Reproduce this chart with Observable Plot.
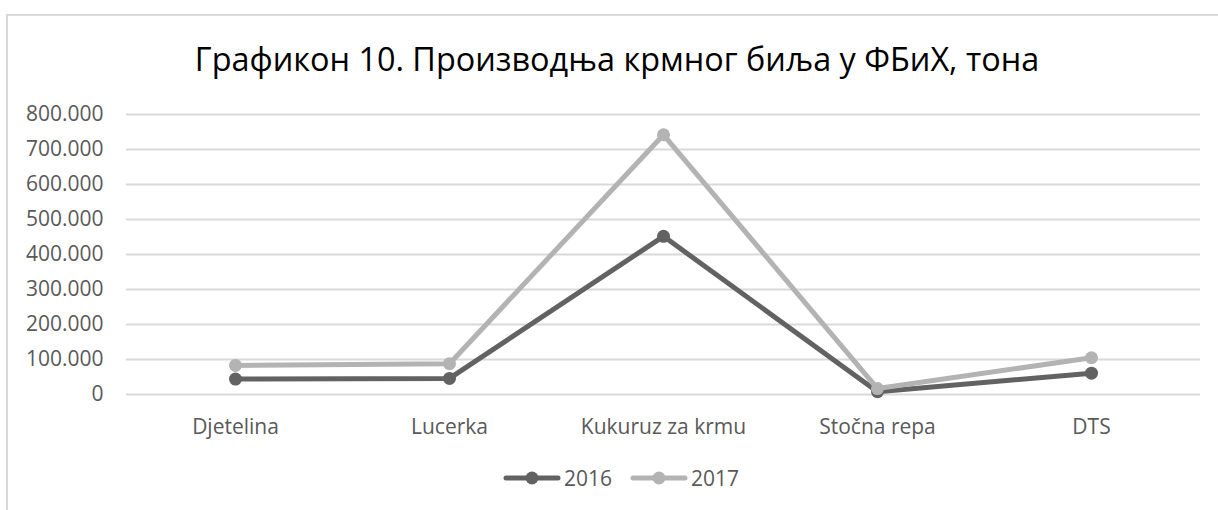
<!DOCTYPE html>
<html>
<head>
<meta charset="utf-8">
<script src="https://cdn.jsdelivr.net/npm/d3@7"></script>
<script src="https://cdn.jsdelivr.net/npm/@observablehq/plot@0.6"></script>
<style>
  html, body { margin: 0; padding: 0; background: #fff; }
  body { width: 1218px; height: 510px; position: relative; overflow: hidden; font-family: "Open Sans", "Noto Sans", sans-serif; }
  #frame { position: absolute; left: 6px; top: 14px; width: 1240px; height: 520px; border-top: 2px solid #d9d9d9; border-left: 2px solid #d9d9d9; box-sizing: border-box; }
  #title { position: absolute; left: 0; width: 1234px; top: 38px; text-align: center; font-size: 32.4px; color: #000; line-height: 40px; white-space: nowrap; }
  #chart { position: absolute; left: 0; top: 0; }
  #legend { position: absolute; top: 464px; left: 0; width: 1242px; display: flex; justify-content: center; gap: 18px; font-size: 21px; color: #595959; }
  .item { display: flex; align-items: center; gap: 3px; }
</style>
</head>
<body>
<div id="frame"></div>
<div id="title">Графикон 10. Производња крмног биља у ФБиХ, тона</div>
<div id="chart"></div>
<div id="legend"></div>
<script>
const categories = ["Djetelina", "Lucerka", "Kukuruz za krmu", "Stočna repa", "DTS"];
const seriesNames = ["2016", "2017"];
const values2016 = [44000, 46000, 452000, 8000, 61000];
const values2017 = [83000, 88000, 742000, 17000, 105000];
const yTicks = [0, 100000, 200000, 300000, 400000, 500000, 600000, 700000, 800000];
const colors = ["#626262", "#b3b3b3"];

const data = [];
[values2016, values2017].forEach((vals, s) => {
  categories.forEach((c, i) => data.push({category: c, series: seriesNames[s], value: vals[i]}));
});

const fmt = v => v === 0 ? "0" : d3.format(",")(v).replace(/,/g, ".");

const plot = Plot.plot({
  width: 1218,
  height: 440,
  marginLeft: 126,
  marginRight: 18,
  marginTop: 114,
  marginBottom: 46,
  style: {fontFamily: "'Open Sans', 'Noto Sans', sans-serif", fontSize: "21px", color: "#595959", background: "transparent", overflow: "visible"},
  x: {type: "point", domain: categories, padding: 0.5, label: null},
  y: {domain: [0, 800000], label: null},
  color: {domain: seriesNames, range: colors},
  marks: [
    Plot.ruleY(yTicks, {stroke: "#d9d9d9", strokeWidth: 2}),
    Plot.axisY({ticks: yTicks, tickFormat: fmt, tickSize: 0, tickPadding: 23, label: null, fill: "#595959"}),
    Plot.axisX({tickSize: 0, tickPadding: 25, label: null, fill: "#595959"}),
    Plot.line(data, {x: "category", y: "value", z: "series", stroke: "series", strokeWidth: 5, strokeLinejoin: "round", strokeLinecap: "round"}),
    Plot.dot(data, {x: "category", y: "value", fill: "series", r: 6.5})
  ]
});
document.getElementById("chart").appendChild(plot);

const legend = document.getElementById("legend");
seriesNames.forEach((name, i) => {
  const item = document.createElement("div");
  item.className = "item";
  item.innerHTML = `<svg width="58" height="20"><line x1="3" y1="10" x2="55" y2="10" stroke="${colors[i]}" stroke-width="5" stroke-linecap="round"/><circle cx="29" cy="10" r="6.5" fill="${colors[i]}"/></svg><span>${name}</span>`;
  legend.appendChild(item);
});
</script>
</body>
</html>
